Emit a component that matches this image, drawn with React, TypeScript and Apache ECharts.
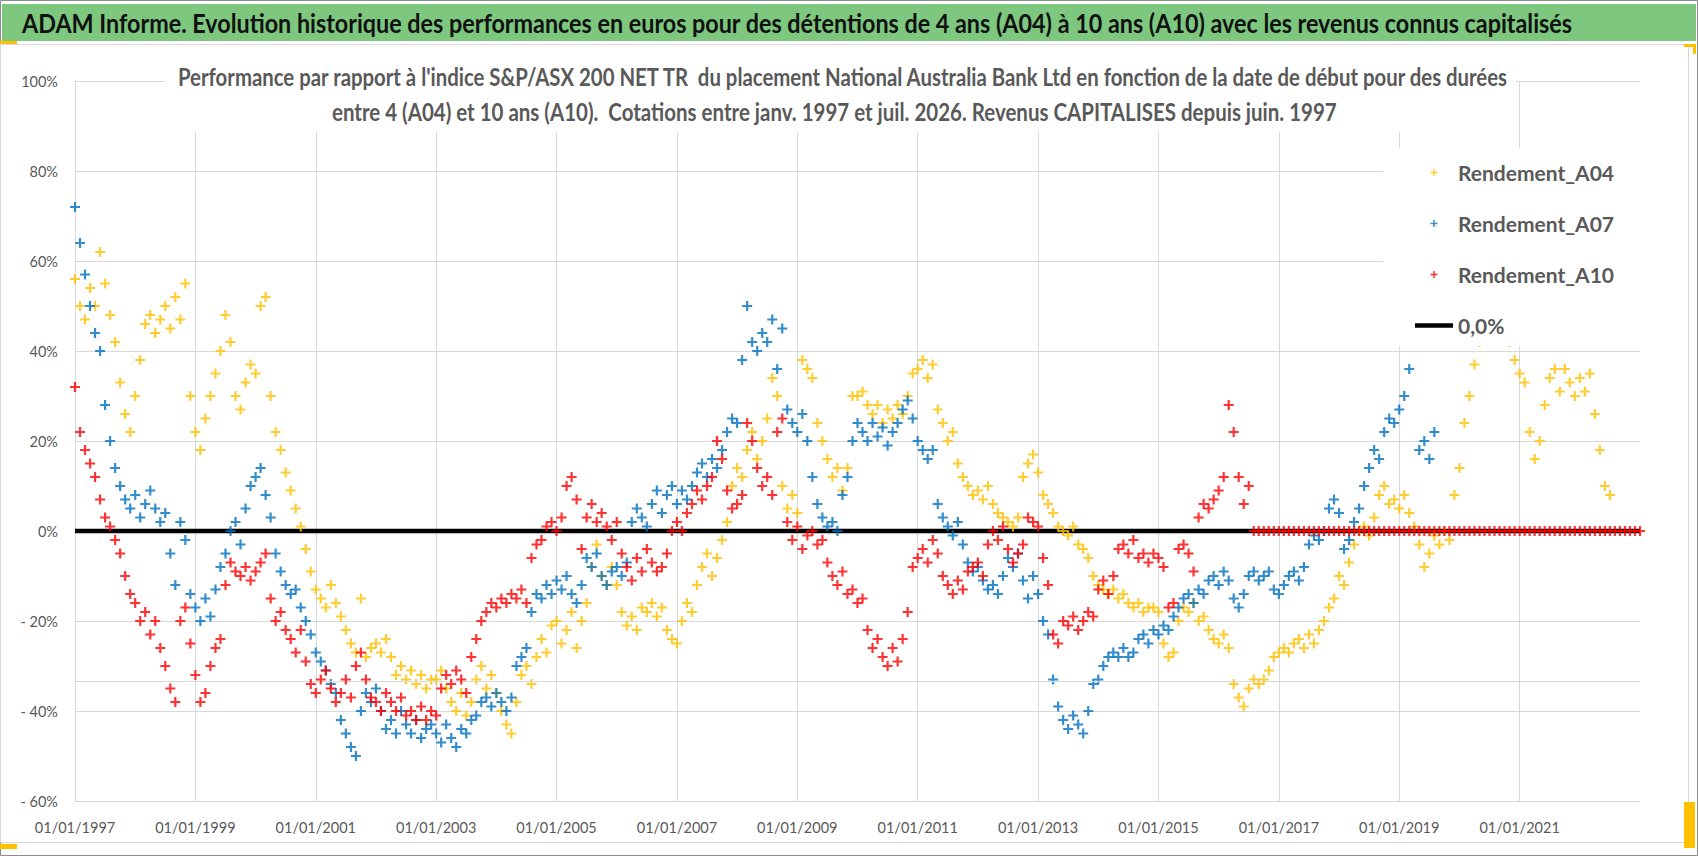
import React, { useEffect, useRef } from 'react';
import * as echarts from 'echarts';

// monthly values (%) starting Jan 1997
const START_YEAR = 1997;

const a04: number[] = [
  56, 50, 47, 54, 50, 62, 55, 48, 42, 33, 26, 22,
  30, 38, 46, 48, 44, 47, 50, 45, 52, 47, 55, 30,
  22, 18, 25, 30, 35, 40, 48, 42, 30, 27, 33, 37,
  35, 50, 52, 30, 22, 18, 13, 9, 5, 1, -4, -9,
  -13, -15, -17, -12, -16, -19, -22, -25, -27, -15, -28, -26,
  -25, -27, -24, -28, -32, -30, -33, -31, -34, -32, -35, -33,
  -33, -31, -35, -38, -40, -36, -41, -38, -33, -30, -35, -32,
  -36, -40, -43, -45, -38, -32, -30, -34, -28, -24, -27, -21,
  -20, -25, -22, -18, -26, -20, -16, -8, -3, -10, -12, -8,
  -12, -18, -21, -19, -22, -17, -18, -16, -19, -17, -22, -24,
  -25, -20, -16, -18, -12, -8, -5, -10, -6, -2, 2, 10,
  14, 12, 18, 22, 16, 20, 25, 34, 30, 10, 5, 8,
  4, 38, 36, 34, 24, 20, 16, 12, 14, 9, 14, 30,
  30, 31, 28, 26, 28, 24, 27, 25, 28, 26, 30, 35,
  36, 38, 34, 37, 27, 24, 20, 22, 15, 12, 10, 8,
  9, 7, 10, 6, 4, 3, 2, 1, 3, 12, 15, 17,
  13, 8, 6, 4, 1, 0, -1, 1, -3, -4, -6, -10,
  -12, -13, -14, -13, -15, -14, -16, -17, -16, -18, -17, -17,
  -18, -25, -28, -27, -20, -17, -18, -16, -20, -19, -22, -24,
  -25, -23, -26, -34, -37, -39, -35, -33, -34, -33, -31, -28,
  -27, -26, -27, -25, -24, -26, -23, -25, -22, -20, -17, -15,
  -10, -12, -7, -3, 0, 1, -1, 3, 8, 10, 6, 7,
  5, 8, 4, 1, -3, -8, -5, -1, -3, 0, -2, 8,
  14, 24, 30, 37, 42, 45, 48, 50, 48, 45, 42, 38,
  35, 33, 22, 16, 20, 28, 34, 36, 31, 36, 33, 30,
  34, 31, 35, 26, 18, 10, 8,
];

const a07: number[] = [
  72, 64, 57, 50, 44, 40, 28, 20, 14, 10, 7, 5,
  8, 3, 6, 9, 5, 2, 4, -5, -12, 2, -2, -14,
  -17, -20, -15, -19, -13, -8, -5, 0, 2, -3, 5, 10,
  12, 14, 8, 3, -5, -9, -12, -14, -13, -17, -20, -23,
  -27, -29, -31, -34, -36, -42, -45, -48, -50, -40, -36, -38,
  -35, -40, -44, -42, -45, -40, -43, -45, -42, -46, -44, -43,
  -45, -47, -43, -46, -48, -44, -45, -42, -41, -38, -37, -39,
  -36, -38, -40, -37, -30, -28, -26, -18, -14, -15, -12, -14,
  -11, -13, -10, -14, -16, -12, -6, -8, -5, -10, -12, -9,
  -8, -10, -7, 2, 5, 3, 1, 6, 9, 4, 8, 10,
  6, 9, 7, 10, 13, 15, 12, 16, 14, 18, 22, 25,
  24, 38, 50, 42, 40, 44, 42, 47, 36, 45, 27, 24,
  22, 26, 20, 12, 6, 3, 1, 2, 0, 8, 12, 20,
  24, 22, 20, 24, 21, 23, 19, 22, 24, 27, 29, 25,
  20, 18, 16, 18, 6, 3, 1, -1, 2, -3, -7, -9,
  -8, -11, -13, -12, -14, -10, -6, -8, -5, -11, -15, -10,
  -14, -20, -23, -33, -39, -42, -44, -41, -43, -45, -40, -34,
  -33, -30, -28, -27, -28, -26, -28, -27, -24, -23, -25, -22,
  -23, -21, -22, -19, -17, -15, -14, -16, -13, -14, -11, -10,
  -12, -9, -11, -15, -17, -14, -10, -9, -11, -10, -9, -13,
  -14, -12, -10, -9, -11, -8, -3, -1, -2, 0, 5, 7,
  4, -4, -2, 2, 5, 10, 14, 18, 16, 22, 25, 24,
  27, 30, 36, 44, 18, 20, 16, 22,
];

// A10 has no value after mid-2016: the sheet carries 0 until 2023
const a10: number[] = [
  32, 22, 18, 15, 12, 7, 3, 1, -2, -5, -10, -14,
  -16, -20, -18, -23, -20, -26, -30, -35, -38, -20, -17, -25,
  -32, -38, -36, -30, -26, -24, -12, -7, -9, -10, -8, -11,
  -9, -7, -5, -15, -20, -18, -22, -24, -27, -22, -29, -34,
  -36, -33, -31, -35, -38, -36, -33, -37, -30, -27, -33, -37,
  -38, -40, -36, -38, -40, -37, -41, -40, -42, -39, -42, -40,
  -41, -35, -32, -34, -31, -33, -36, -28, -24, -20, -18, -16,
  -17, -15, -16, -14, -15, -13, -16, -6, -3, -2, 1, 2,
  0, 3, 10, 12, 7, -4, 3, 6, 2, 4, 1, -2,
  2, -5, -8, -11, -6, -9, -4, -7, -9, -8, -5, 0,
  2, 0, 4, 6, 9, 7, 10, 12, 20, 16, 9, 5,
  6, 8, 24, 20, 14, 10, 12, 8, 22, 25, 2, -2,
  1, -4, -1, 0, -3, -2, -7, -10, -12, -9, -14, -13,
  -16, -15, -22, -26, -24, -28, -30, -26, -29, -24, -18, -8,
  -6, -4, -7, -2, -5, -10, -12, -14, -11, -13, -9, -8,
  -7, -10, -3, 0, -2, 1, -4, -7, -5, -3, 3, 2,
  1, -6, -12, -23, -25, -20, -21, -19, -22, -20, -18, -19,
  -13, -11, -14, -10, -4, -3, -5, -2, -6, -5, -7, -5,
  -6, -8, -17, -16, -4, -3, -5, -9, 3, 6, 5, 7,
  9, 12, 28, 22, 12, 6, 10, 0, 0, 0, 0, 0,
  0, 0, 0, 0, 0, 0, 0, 0, 0, 0, 0, 0,
  0, 0, 0, 0, 0, 0, 0, 0, 0, 0, 0, 0,
  0, 0, 0, 0, 0, 0, 0, 0, 0, 0, 0, 0,
  0, 0, 0, 0, 0, 0, 0, 0, 0, 0, 0, 0,
  0, 0, 0, 0, 0, 0, 0, 0, 0, 0, 0, 0,
  0, 0, 0, 0, 0, 0, 0, 0, 0, 0, 0, 0,
  0,
];

const seriesNames = ['Rendement_A04', 'Rendement_A07', 'Rendement_A10'];
const seriesColors = ['#FFC000', '#0070C0', '#FF0000'];
const zeroLine: number[][] = [[1997, 0], [2023, 0]];
const refLevel = -33.3;

const TITLE = 'ADAM Informe. Evolution historique des performances en euros pour des détentions de 4 ans (A04) à 10 ans (A10) avec les revenus connus capitalisés';
const SUB1 = "Performance par rapport à l'indice S&P/ASX 200 NET TR  du placement National Australia Bank Ltd en fonction de la date de début pour des durées";
const SUB2 = 'entre 4 (A04) et 10 ans (A10).  Cotations entre janv. 1997 et juil. 2026. Revenus CAPITALISES depuis juin. 1997';

const PLUS = 'path://M3.9,0H6.1V3.9H10V6.1H6.1V10H3.9V6.1H0V3.9H3.9Z';
const BAR = 'path://M0,0H38V4.5H0Z';
const FONT = 'Lato';
const GREY = '#595959';
const GRID = '#d9d9d9';
const GOLD = '#FFC000';

const toPoints = (vals: number[]) => vals.map((v, i) => [START_YEAR + i / 12, v]);

// squeeze a text so it spans the same width as in the picture
function fitScale(text: string, font: string, target: number) {
  const ctx = document.createElement('canvas').getContext('2d');
  if (!ctx) return 1;
  ctx.font = font;
  const w = ctx.measureText(text).width;
  return w > 0 ? Math.min(1.4, target / w) : 1;
}

const App = () => {
  const chartRef = useRef<HTMLDivElement>(null);

  useEffect(() => {
    const chart = echarts.init(chartRef.current, null, { renderer: 'svg' });

    const sTitle = fitScale(TITLE, `bold 26px ${FONT}`, 1552);
    const sSub1 = fitScale(SUB1, `bold 24px ${FONT}`, 1332);
    const sSub2 = fitScale(SUB2, `bold 24px ${FONT}`, 1006);

    const scatter = [a04, a07, a10].map((vals, k) => ({
      name: seriesNames[k],
      type: 'scatter',
      symbol: PLUS,
      symbolSize: 10,
      itemStyle: { color: seriesColors[k] },
      z: 3 + k,
      data: toPoints(vals),
    }));

    chart.setOption({
      animation: false,
      backgroundColor: '#fff',
      grid: { left: 75, right: 58, top: 81, bottom: 55 },
      xAxis: {
        type: 'value',
        min: 1997,
        max: 2023,
        interval: 2,
        axisLine: { show: true, lineStyle: { color: GRID, width: 1 } },
        axisTick: { show: false },
        axisLabel: {
          formatter: (v: number) => '01/01/' + v,
          color: GREY, fontFamily: FONT, fontSize: 14.5, margin: 19,
          showMaxLabel: false,
        },
        splitLine: { show: true, showMaxLine: false, lineStyle: { color: GRID, width: 1 } },
      },
      yAxis: {
        type: 'value',
        min: -60,
        max: 100,
        interval: 20,
        axisLine: { show: true, lineStyle: { color: GRID, width: 1 } },
        axisTick: { show: false },
        axisLabel: {
          formatter: (v: number) => (v < 0 ? '- ' + Math.abs(v) + '%' : v + '%'),
          color: GREY, fontFamily: FONT, fontSize: 14.5, margin: 17,
        },
        splitLine: { show: true, lineStyle: { color: GRID, width: 1 } },
      },
      legend: {
        orient: 'vertical',
        left: 1383,
        top: 148,
        padding: [14, 28, 10, 32],
        backgroundColor: '#fff',
        itemWidth: 38,
        itemHeight: 7,
        itemGap: 30,
        selectedMode: false,
        z: 10,
        textStyle: { fontFamily: FONT, fontWeight: 'bold', fontSize: 21, color: GREY },
        data: [...seriesNames, { name: '0,0%', icon: BAR }],
      },
      graphic: [
        { type: 'rect', z: -10, shape: { x: 0.5, y: 0.5, width: 1697, height: 855 }, style: { fill: 'none', stroke: '#8c8c8c', lineWidth: 1 } },
        { type: 'rect', z: -9, shape: { x: 2, y: 4, width: 1694, height: 37 }, style: { fill: '#7dc77f' } },
        { type: 'rect', z: -9, shape: { x: 0.5, y: 44.5, width: 1688, height: 798 }, style: { fill: 'none', stroke: GRID, lineWidth: 1 } },
        { type: 'rect', z: -8, shape: { x: 0, y: 41, width: 17, height: 3 }, style: { fill: GOLD } },
        { type: 'rect', z: -8, shape: { x: 0, y: 844, width: 17, height: 5 }, style: { fill: GOLD } },
        { type: 'rect', z: -8, shape: { x: 1684, y: 44, width: 12, height: 3 }, style: { fill: GOLD } },
        { type: 'rect', z: -8, shape: { x: 1693, y: 44, width: 3, height: 10 }, style: { fill: GOLD } },
        { type: 'rect', z: -8, shape: { x: 1684, y: 802, width: 11, height: 46 }, style: { fill: GOLD } },
        // white box of the chart title, hides the grid behind it
        { type: 'rect', z: 1, shape: { x: 165, y: 58, width: 1351, height: 74 }, style: { fill: '#fff' } },
        {
          type: 'text', x: 22, y: 23, scaleX: sTitle, z: 10,
          style: { text: TITLE, fontFamily: FONT, fontWeight: 'bold', fontSize: 26, fill: '#111', align: 'left', verticalAlign: 'middle' },
        },
        {
          type: 'text', x: 178, y: 77, scaleX: sSub1, z: 10,
          style: { text: SUB1, fontFamily: FONT, fontWeight: 'bold', fontSize: 24, fill: GREY, align: 'left', verticalAlign: 'middle' },
        },
        {
          type: 'text', x: 332, y: 112, scaleX: sSub2, z: 10,
          style: { text: SUB2, fontFamily: FONT, fontWeight: 'bold', fontSize: 24, fill: GREY, align: 'left', verticalAlign: 'middle' },
        },
      ],
      series: [
        {
          name: '0,0%',
          type: 'line',
          data: zeroLine,
          symbol: 'none',
          lineStyle: { color: '#000', width: 4.5 },
          itemStyle: { color: '#000' },
          z: 2,
          markLine: {
            silent: true,
            symbol: 'none',
            label: { show: false },
            lineStyle: { color: GRID, width: 1, type: 'solid' },
            data: [{ yAxis: refLevel }],
          },
        },
        ...scatter,
      ],
    });

    return () => {
      chart.dispose();
    };
  }, []);

  return (
    <div
      ref={chartRef}
      style={{ position: 'fixed', left: 0, top: 0, width: 1698, height: 856 }}
    />
  );
};

export default App;
